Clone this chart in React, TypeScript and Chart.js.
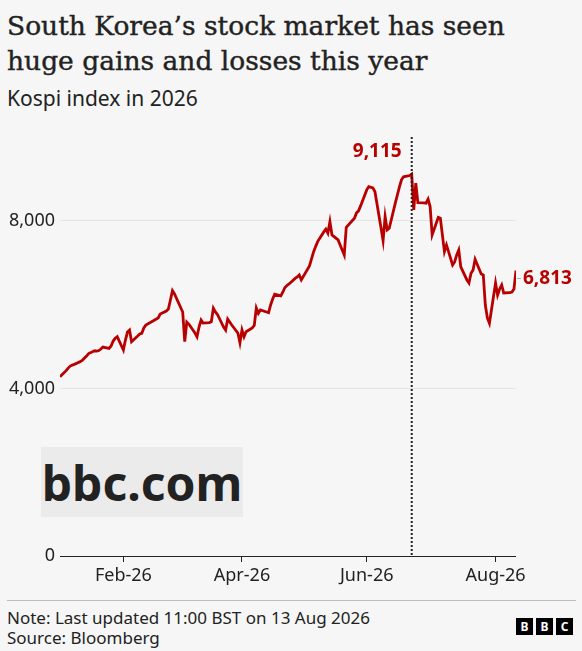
import React, { useEffect, useRef } from "react";
import { Chart, registerables } from "chart.js";

Chart.register(...registerables);

const titleLines = ["South Korea’s stock market has seen", "huge gains and losses this year"];
const subtitle = "Kospi index in 2026";
const noteText = "Note: Last updated 11:00 BST on 13 Aug 2026";
const sourceText = "Source: Bloomberg";

const dates = [
  "2026-01-02", "2026-01-05", "2026-01-06", "2026-01-07", "2026-01-08", "2026-01-09",
  "2026-01-12", "2026-01-13", "2026-01-14", "2026-01-15", "2026-01-16",
  "2026-01-19", "2026-01-20", "2026-01-21", "2026-01-22", "2026-01-23",
  "2026-01-26", "2026-01-27", "2026-01-28", "2026-01-29", "2026-01-30",
  "2026-02-02", "2026-02-03", "2026-02-04", "2026-02-05", "2026-02-06",
  "2026-02-09", "2026-02-10", "2026-02-11", "2026-02-12", "2026-02-13",
  "2026-02-19", "2026-02-20",
  "2026-02-23", "2026-02-24", "2026-02-25", "2026-02-26", "2026-02-27",
  "2026-03-03", "2026-03-04", "2026-03-05", "2026-03-06",
  "2026-03-09", "2026-03-10", "2026-03-11", "2026-03-12", "2026-03-13",
  "2026-03-16", "2026-03-17", "2026-03-18", "2026-03-19", "2026-03-20",
  "2026-03-23", "2026-03-24", "2026-03-25", "2026-03-26", "2026-03-27",
  "2026-03-30", "2026-03-31",
  "2026-04-01", "2026-04-02", "2026-04-03",
  "2026-04-06", "2026-04-07", "2026-04-08", "2026-04-09", "2026-04-10",
  "2026-04-13", "2026-04-14", "2026-04-15", "2026-04-16", "2026-04-17",
  "2026-04-20", "2026-04-21", "2026-04-22", "2026-04-23", "2026-04-24",
  "2026-04-27", "2026-04-28", "2026-04-29", "2026-04-30",
  "2026-05-04", "2026-05-06", "2026-05-07", "2026-05-08",
  "2026-05-11", "2026-05-12", "2026-05-13", "2026-05-14", "2026-05-15",
  "2026-05-18", "2026-05-19", "2026-05-20", "2026-05-21", "2026-05-22",
  "2026-05-26", "2026-05-27", "2026-05-28", "2026-05-29",
  "2026-06-01", "2026-06-02", "2026-06-04", "2026-06-05",
  "2026-06-08", "2026-06-09", "2026-06-10", "2026-06-11", "2026-06-12",
  "2026-06-15", "2026-06-16", "2026-06-17", "2026-06-18", "2026-06-19",
  "2026-06-22", "2026-06-23", "2026-06-24", "2026-06-25", "2026-06-26",
  "2026-06-29", "2026-06-30",
  "2026-07-01", "2026-07-02", "2026-07-03",
  "2026-07-06", "2026-07-07", "2026-07-08", "2026-07-09", "2026-07-10",
  "2026-07-13", "2026-07-14", "2026-07-15", "2026-07-16", "2026-07-17",
  "2026-07-20", "2026-07-21", "2026-07-22", "2026-07-23", "2026-07-24",
  "2026-07-27", "2026-07-28", "2026-07-29", "2026-07-30", "2026-07-31",
  "2026-08-03", "2026-08-04", "2026-08-05", "2026-08-06", "2026-08-07",
  "2026-08-10", "2026-08-11", "2026-08-12", "2026-08-13",
];

const kospi = [
  4280, 4423, 4485, 4533, 4557, 4574,
  4640, 4676, 4724, 4772, 4832,
  4898, 4891, 4903, 4939, 4987,
  4956, 5011, 5130, 5195, 5233,
  4915, 5154, 5345, 5393, 5114,
  5250, 5298, 5314, 5441, 5513,
  5680, 5775,
  5847, 5895, 6110, 6332, 6253,
  5823, 5114, 5584, 5536,
  5321, 5233, 5465, 5632, 5560,
  5572, 5592, 5912, 5823, 5764,
  5465, 5393, 5656, 5584, 5513,
  5321, 5090,
  5393, 5233, 5353,
  5441, 5501, 5919, 5792, 5871,
  5823, 5807, 5991, 6134, 6246,
  6206, 6301, 6409, 6456, 6492,
  6624, 6660, 6707, 6588,
  6922, 7257, 7384, 7503,
  7735, 7799, 7704, 7981, 7663,
  7544, 7424, 7305, 7185, 7847,
  8062, 8189, 8237, 8356,
  8738, 8817, 8786, 8698,
  7830, 7527, 8100, 7783, 7823,
  8428, 8619, 8810, 8978, 9050,
  9080, 9115, 8260, 8900, 8435,
  8428, 8420,
  8516, 8339, 7662,
  8081, 8062, 7663, 7264, 7424,
  6946, 7018, 7185, 7305, 6899,
  6588, 6516, 6748, 6827, 7082,
  6731, 6707, 5990, 5680, 5553,
  6516, 6230, 6373, 6469, 6277,
  6284, 6301, 6373, 6813,
];

const xTickDates = ["2026-02-02", "2026-04-01", "2026-06-01", "2026-08-03"];
const xTickLabels = ["Feb-26", "Apr-26", "Jun-26", "Aug-26"];
const yTickValues = [0, 4000, 8000];
const xStartDate = "2026-01-02";
const xEndDate = "2026-08-13";
const yMin = 0;
const yMax = 10000;
const peakDate = "2026-06-23";
const peakLabel = "9,115";
const lastLabel = "6,813";

const RED = "#b80000";
const INK = "#222222";
const SANS = "'Noto Sans', 'Open Sans', sans-serif";

function dayOf(iso: string): number {
  const [y, m, d] = iso.split("-").map(Number);
  return (Date.UTC(y, m - 1, d) - Date.UTC(2026, 0, 1)) / 86400000;
}

const annotatePlugin = {
  id: "annotate",
  afterDatasetsDraw(chart: any) {
    const { ctx, chartArea, scales } = chart;
    const xs = scales.x;
    const ys = scales.y;
    const px = xs.getPixelForValue(dayOf(peakDate));
    ctx.save();
    ctx.strokeStyle = INK;
    ctx.lineWidth = 2;
    ctx.setLineDash([2, 2]);
    ctx.beginPath();
    ctx.moveTo(px, chartArea.top);
    ctx.lineTo(px, chartArea.bottom);
    ctx.stroke();
    ctx.setLineDash([]);

    ctx.fillStyle = RED;
    ctx.font = `bold 19px ${SANS}`;
    ctx.textAlign = "right";
    ctx.textBaseline = "middle";
    ctx.fillText(peakLabel, px - 10, chartArea.top + 15);

    const lastX = xs.getPixelForValue(dayOf(dates[dates.length - 1]));
    const lastY = ys.getPixelForValue(kospi[kospi.length - 1]) + 8;
    ctx.strokeStyle = "#b0b0b0";
    ctx.lineWidth = 1;
    ctx.beginPath();
    ctx.moveTo(lastX + 1, lastY);
    ctx.lineTo(lastX + 5, lastY);
    ctx.stroke();
    ctx.textAlign = "left";
    ctx.fillText(lastLabel, lastX + 7, lastY);
    ctx.restore();
  },
};

export default function App() {
  const canvasRef = useRef<HTMLCanvasElement | null>(null);

  useEffect(() => {
    document.body.style.margin = "0";
    document.body.style.background = "#f6f6f6";
    const canvas = canvasRef.current;
    if (!canvas) return;
    const points = dates.map((d, i) => ({ x: dayOf(d), y: kospi[i] }));
    const tickDays = xTickDates.map(dayOf);

    const chart = new Chart(canvas, {
      type: "line",
      data: {
        datasets: [
          {
            data: points,
            borderColor: RED,
            borderWidth: 2.8,
            pointRadius: 0,
            tension: 0,
            fill: false,
          },
        ],
      },
      options: {
        animation: false,
        responsive: false,
        maintainAspectRatio: false,
        devicePixelRatio: 1,
        layout: { padding: { top: 17, right: 66, left: 0, bottom: 0 } },
        plugins: {
          legend: { display: false },
          tooltip: { enabled: false },
        },
        scales: {
          x: {
            type: "linear",
            min: dayOf(xStartDate),
            max: dayOf(xEndDate),
            afterBuildTicks: (axis: any) => {
              axis.ticks = tickDays.map((v) => ({ value: v }));
            },
            afterFit: (axis: any) => {
              axis.height = 44;
            },
            border: { display: false },
            grid: {
              drawOnChartArea: false,
              drawTicks: true,
              tickLength: 6,
              color: INK,
              lineWidth: 1,
            },
            ticks: {
              autoSkip: false,
              maxRotation: 0,
              padding: 3,
              color: INK,
              font: { family: SANS, size: 18 },
              callback: (value: any) => {
                const idx = tickDays.indexOf(Number(value));
                return idx >= 0 ? xTickLabels[idx] : "";
              },
            },
          },
          y: {
            type: "linear",
            min: yMin,
            max: yMax,
            afterBuildTicks: (axis: any) => {
              axis.ticks = yTickValues.map((v) => ({ value: v }));
            },
            afterFit: (axis: any) => {
              axis.width = 60;
            },
            border: { display: false },
            grid: {
              drawTicks: false,
              color: (c: any) => (c.tick && c.tick.value === 0 ? INK : "#e4e4e4"),
              lineWidth: 1,
            },
            ticks: {
              padding: 5,
              color: INK,
              font: { family: SANS, size: 18 },
              callback: (value: any) => Number(value).toLocaleString("en-US"),
            },
          },
        },
      },
      plugins: [annotatePlugin],
    } as any);

    return () => chart.destroy();
  }, []);

  return (
    <div
      style={{
        position: "relative",
        width: 582,
        height: 651,
        background: "#f6f6f6",
        overflow: "hidden",
        color: INK,
      }}
    >
      <div
        style={{
          position: "absolute",
          left: 7,
          top: 8,
          fontFamily: "'DejaVu Serif', serif",
          fontSize: 26.5,
          lineHeight: "35px",
          whiteSpace: "nowrap",
          color: INK,
          WebkitTextStroke: "0.4px #222222",
        }}
      >
        {titleLines.map((l, i) => (
          <div key={i}>{l}</div>
        ))}
      </div>
      <div
        style={{
          position: "absolute",
          left: 7,
          top: 86,
          fontFamily: SANS,
          fontSize: 21,
          lineHeight: "24px",
          whiteSpace: "nowrap",
          color: INK,
        }}
      >
        {subtitle}
      </div>
      <canvas
        ref={canvasRef}
        width={582}
        height={480}
        style={{ position: "absolute", left: 0, top: 120, width: 582, height: 480 }}
      />
      <div
        style={{
          position: "absolute",
          left: 41,
          top: 447,
          width: 202,
          height: 70,
          background: "#ebebeb",
          display: "flex",
          alignItems: "center",
          justifyContent: "center",
          fontFamily: SANS,
          fontWeight: 700,
          fontSize: 48,
          color: INK,
        }}
      >
        bbc.com
      </div>
      <div
        style={{
          position: "absolute",
          left: 7,
          top: 600,
          width: 569,
          height: 1,
          background: "#bdbdbd",
        }}
      />
      <div
        style={{
          position: "absolute",
          left: 7,
          top: 608,
          fontFamily: SANS,
          fontSize: 17,
          lineHeight: "20px",
          whiteSpace: "nowrap",
          color: INK,
        }}
      >
        <div>{noteText}</div>
        <div>{sourceText}</div>
      </div>
      <div style={{ position: "absolute", left: 516, top: 618, display: "flex", gap: 3 }}>
        {["B", "B", "C"].map((ch, i) => (
          <div
            key={i}
            style={{
              width: 17,
              height: 17,
              background: "#000",
              color: "#fff",
              fontFamily: SANS,
              fontWeight: 700,
              fontSize: 12,
              lineHeight: "17px",
              textAlign: "center",
            }}
          >
            {ch}
          </div>
        ))}
      </div>
    </div>
  );
}
